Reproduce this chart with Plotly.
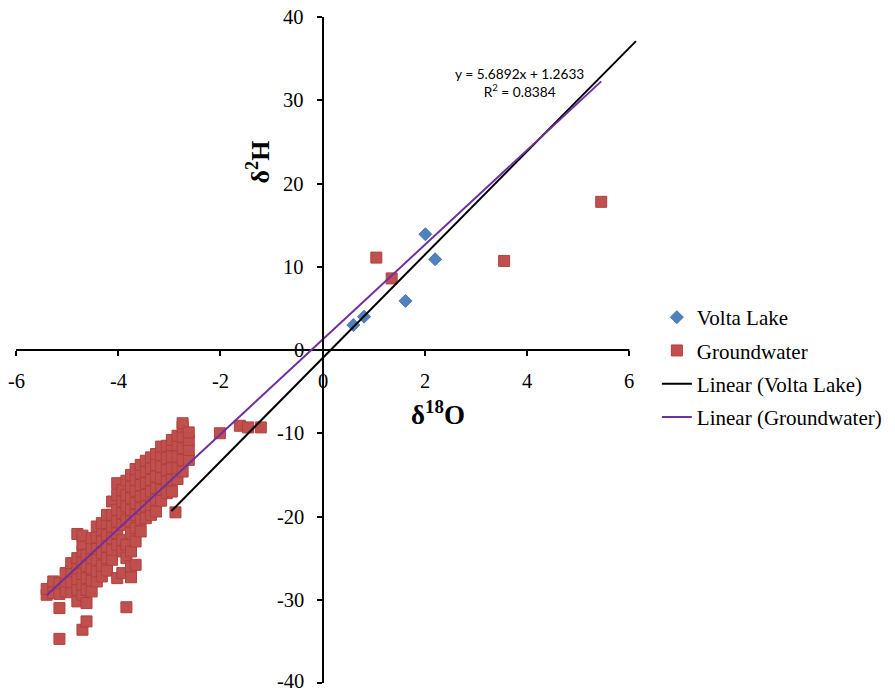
import plotly.graph_objects as go
import numpy as np

# ---------------- data ----------------
volta_d18O = [0.60, 0.81, 1.62, 2.01, 2.20]
volta_d2H = [3.0, 4.0, 5.9, 13.9, 10.9]

gw_d18O = [
    -5.40, -5.40,
    -5.27, -5.27, -5.27,
    -5.15, -5.15, -5.15, -5.15,
    -5.03, -5.03, -5.03,
    -4.92, -4.92, -4.92, -4.92,
    -4.80, -4.80, -4.80, -4.80, -4.80, -4.80,
    -4.70, -4.70, -4.70, -4.70, -4.70, -4.70, -4.70, -4.70,
    -4.62, -4.62, -4.62, -4.62, -4.62, -4.62,
    -4.52, -4.52, -4.52, -4.52, -4.52, -4.52,
    -4.42, -4.42, -4.42, -4.42, -4.42, -4.42,
    -4.32, -4.32, -4.32, -4.32, -4.32, -4.32,
    -4.22, -4.22, -4.22, -4.22, -4.22, -4.22,
    -4.12, -4.12, -4.12, -4.12, -4.12, -4.12,
    -4.02, -4.02, -4.02, -4.02, -4.02, -4.02, -4.02,
    -3.92, -3.92, -3.92, -3.92, -3.92, -3.92, -3.92,
    -3.84, -3.84, -3.84, -3.84, -3.84, -3.84, -3.84,
    -3.75, -3.75, -3.75, -3.75, -3.75, -3.75, -3.75, -3.75, -3.75,
    -3.66, -3.66, -3.66, -3.66, -3.66, -3.66, -3.66, -3.66,
    -3.56, -3.56, -3.56, -3.56, -3.56, -3.56, -3.56,
    -3.46, -3.46, -3.46, -3.46, -3.46, -3.46,
    -3.36, -3.36, -3.36, -3.36, -3.36, -3.36,
    -3.26, -3.26, -3.26, -3.26, -3.26, -3.26,
    -3.16, -3.16, -3.16, -3.16, -3.16, -3.16,
    -3.05, -3.05, -3.05, -3.05, -3.05,
    -2.95, -2.95, -2.95, -2.95, -2.95, -2.95,
    -2.88,
    -2.84, -2.84, -2.84, -2.84, -2.84,
    -2.74, -2.74, -2.74, -2.74, -2.74, -2.74,
    -2.62, -2.62, -2.62, -2.62,
    -2.01, -1.62, -1.46, -1.21, 1.05, 1.35, 3.55, 5.45,
]
gw_d2H = [
    -29.4, -28.7,
    -29.2, -28.3, -27.8,
    -29.3, -28.0, -31.0, -34.7,
    -29.0, -27.8, -26.8,
    -29.1, -27.9, -26.6, -25.6,
    -30.2, -28.8, -27.5, -26.2, -25.0, -22.1,
    -29.4, -28.2, -26.9, -25.5, -24.2, -23.3, -22.3, -33.6,
    -30.4, -32.6, -28.8, -27.4, -26.0, -24.6,
    -29.0, -27.7, -26.3, -25.0, -23.8, -22.6,
    -27.8, -26.6, -25.2, -23.9, -22.5, -21.2,
    -27.2, -25.9, -24.4, -23.0, -21.6, -20.8,
    -26.5, -25.0, -23.6, -22.2, -20.8, -19.8,
    -25.2, -24.0, -22.6, -21.2, -19.8, -18.2,
    -27.4, -23.4, -22.0, -20.6, -19.2, -17.4, -16.0,
    -26.8, -24.2, -22.8, -21.0, -19.6, -18.2, -16.8,
    -30.9, -25.0, -23.4, -20.4, -18.8, -17.4, -15.7,
    -27.3, -26.0, -24.2, -22.0, -20.6, -19.2, -17.8, -16.4, -15.0,
    -25.8, -23.0, -21.4, -19.8, -18.4, -16.9, -15.6, -14.3,
    -21.8, -20.4, -19.0, -17.6, -16.2, -14.8, -13.8,
    -20.2, -18.8, -17.4, -16.0, -14.6, -13.3,
    -19.8, -18.6, -17.0, -15.6, -14.2, -12.9,
    -19.4, -18.0, -16.6, -15.2, -13.8, -12.5,
    -18.1, -16.8, -15.4, -14.0, -12.6, -11.6,
    -17.2, -15.8, -14.4, -13.0, -11.5,
    -17.0, -15.6, -14.2, -12.8, -11.4, -10.8,
    -19.5,
    -15.5, -14.2, -12.8, -11.4, -10.3,
    -14.6, -13.2, -11.8, -10.4, -9.2, -8.8,
    -13.2, -12.0, -10.8, -9.9,
    -10.0, -9.1, -9.3, -9.3, 11.1, 8.6, 10.7, 17.8,
]

# trendlines: slope, intercept and x extent
volta_slope, volta_intercept = 6.21, -0.97
volta_line_x = [-2.96, 6.13]
gw_slope, gw_intercept = 5.6892, 1.2633
gw_line_x = [min(gw_d18O), max(gw_d18O)]

x_ticks = [-6, -4, -2, 0, 2, 4, 6]
x_tick_labels = ["-6", "-4", "-2", "0", "2", "4", "6"]
y_ticks = [-40, -30, -20, -10, 0, 10, 20, 30, 40]
y_tick_labels = ["-40", "-30", "-20", "-10", "0", "10", "20", "30", "40"]
equation_text = "y = 5.6892x + 1.2633<br>R<sup>2</sup> = 0.8384"

# ---------------- figure ----------------
X_RANGE = [-6, 6.15]
Y_RANGE = [-40, 40]
SERIF = "Liberation Serif"
TICK_SIZE = 20.5
LEGEND_SIZE = 21
ML, MR, MT, MB = 16, 254, 17, 8
PW, PH = 895 - ML - MR, 691 - MT - MB

def px_x(px):
    return (px - ML) / PW

def px_y(py):
    return (691 - MB - py) / PH

fig = go.Figure()
fig.add_trace(go.Scatter(
    x=volta_d18O, y=volta_d2H, mode="markers", name="Volta Lake",
    legendgroup="a",
    marker=dict(symbol="diamond", size=10, color="#4F81BD",
                line=dict(color="#4A7AB5", width=1)),
    cliponaxis=False,
))
fig.add_trace(go.Scatter(
    x=gw_d18O, y=gw_d2H, mode="markers", name="Groundwater",
    legendgroup="b",
    marker=dict(symbol="square", size=11, color="#C0504D",
                line=dict(color="#B0403D", width=1)),
    cliponaxis=False,
))
vx = np.array(volta_line_x)
fig.add_trace(go.Scatter(
    x=vx, y=volta_slope * vx + volta_intercept, mode="lines",
    name="Linear (Volta Lake)", legendgroup="c",
    line=dict(color="black", width=2),
))
gx = np.array(gw_line_x)
fig.add_trace(go.Scatter(
    x=gx, y=gw_slope * gx + gw_intercept, mode="lines",
    name="Linear (Groundwater)", legendgroup="d",
    line=dict(color="#7030A0", width=2),
))

# x axis line only from -6 to 6
fig.add_shape(type="line", xref="x", yref="y", x0=-6, x1=6, y0=0, y1=0,
              line=dict(color="black", width=2), layer="below")

y_pos = (0 - X_RANGE[0]) / (X_RANGE[1] - X_RANGE[0])

fig.update_layout(
    width=895, height=691,
    margin=dict(l=ML, r=MR, t=MT, b=MB),
    paper_bgcolor="white", plot_bgcolor="white",
    font=dict(family=SERIF, size=TICK_SIZE, color="black"),
    xaxis=dict(
        range=X_RANGE, anchor="free", position=0.5,
        tickvals=x_ticks, ticks="outside", ticklen=5, tickwidth=2,
        tickcolor="black", showline=False, showgrid=False, zeroline=False,
        showticklabels=False,
    ),
    yaxis=dict(
        range=Y_RANGE, anchor="free", position=y_pos,
        tickvals=y_ticks, ticks="outside", ticklen=5, tickwidth=2,
        tickcolor="black", showline=True, linecolor="black", linewidth=2,
        showgrid=False, zeroline=False, showticklabels=False,
    ),
    legend=dict(
        x=px_x(661), y=px_y(297), xanchor="left", yanchor="top",
        traceorder="grouped", tracegroupgap=3,
        font=dict(family=SERIF, size=LEGEND_SIZE, color="black"),
        bgcolor="rgba(0,0,0,0)", itemwidth=30,
    ),
    showlegend=True,
)

# tick labels
for v, t in zip(x_ticks, x_tick_labels):
    fig.add_annotation(
        x=v, y=0, xref="x", yref="y", text=t, showarrow=False,
        xanchor="center", yanchor="middle", yshift=-31, borderpad=0,
        font=dict(family=SERIF, size=TICK_SIZE, color="black"),
    )
for v, t in zip(y_ticks, y_tick_labels):
    fig.add_annotation(
        x=0, y=v, xref="x", yref="y", text=t, showarrow=False,
        xanchor="right", yanchor="middle", xshift=-18, borderpad=0,
        yshift=2 if v == -40 else 0,
        font=dict(family=SERIF, size=TICK_SIZE, color="black"),
    )

fig.add_annotation(
    text=equation_text, xref="paper", yref="paper",
    x=px_x(523), y=px_y(83), xanchor="center", yanchor="middle",
    showarrow=False, align="center",
    font=dict(family="Lato", size=13.7, color="black"),
)
fig.add_annotation(
    text="<b>δ<sup>2</sup>H</b>", xref="paper", yref="paper",
    x=px_x(260), y=px_y(162), xanchor="center", yanchor="middle",
    textangle=-90,
    showarrow=False, font=dict(family=SERIF, size=26, color="black"),
)
fig.add_annotation(
    text="<b>δ<sup>18</sup>O</b>", xref="paper", yref="paper",
    x=px_x(441), y=px_y(413), xanchor="center", yanchor="middle",
    showarrow=False, font=dict(family=SERIF, size=27, color="black"),
)

fig.write_html("out.html")
